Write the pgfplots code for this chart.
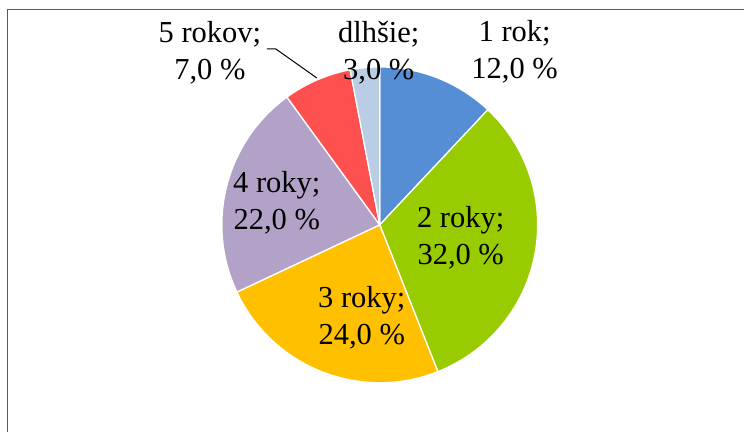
\documentclass[border=0pt]{standalone}
\usepackage{fontspec}
\setmainfont{Liberation Serif}
\usepackage{pgfplots}
\usepackage{pgfplotstable}
\pgfplotsset{compat=1.18}
\definecolor{slice0}{HTML}{558ED5}
\definecolor{slice1}{HTML}{99CC00}
\definecolor{slice2}{HTML}{FFC000}
\definecolor{slice3}{HTML}{B3A2C7}
\definecolor{slice4}{HTML}{FF5050}
\definecolor{slice5}{HTML}{B9CDE5}
\definecolor{framegray}{HTML}{595959}
% label, share in %, label x, first baseline y (in picture units, y up)
\pgfplotstableread[col sep=comma]{
label,value,lx,ly
1 rok,12,515,390
2 roky,32,461,204
3 roky,24,362,124
4 roky,22,277,239
5 rokov,7,210,389
dlhšie,3,379,389
}\piedata
\begin{document}
\begin{tikzpicture}
\begin{axis}[
  width=744bp, height=432bp, scale only axis,
  xmin=0, xmax=744, ymin=0, ymax=432,
  hide axis, clip=false,
]
\pgfplotsextra{
  \path (axis cs:0,0) rectangle (axis cs:744,432);
  \draw[framegray, line width=1bp] (axis cs:7.5,0) -- (axis cs:7.5,422.5) -- (axis cs:744,422.5);
  \pgfplotstablegetrowsof{\piedata}
  \pgfmathtruncatemacro\nrows{\pgfplotsretval-1}
  \gdef\angstart{90}
  \foreach \i in {0,...,\nrows} {
    \pgfplotstablegetelem{\i}{value}\of\piedata
    \let\v\pgfplotsretval
    \pgfmathsetmacro\angend{\angstart-3.6*\v}
    \fill[color=slice\i, draw=white, line width=1.3bp]
      (axis cs:380,207) -- ++(\angstart:158bp)
      arc[start angle=\angstart, end angle=\angend, radius=158bp] -- cycle;
    \xdef\angstart{\angend}
  }
  \draw[black, line width=1bp] (axis cs:267,383) -- (axis cs:276,383) -- (axis cs:317,354);
  \foreach \i in {0,...,\nrows} {
    \pgfplotstablegetelem{\i}{label}\of\piedata \let\lab\pgfplotsretval
    \pgfplotstablegetelem{\i}{value}\of\piedata \let\v\pgfplotsretval
    \pgfplotstablegetelem{\i}{lx}\of\piedata \let\lx\pgfplotsretval
    \pgfplotstablegetelem{\i}{ly}\of\piedata \let\ly\pgfplotsretval
    \node[anchor=base, inner sep=0pt, font=\fontsize{30.5bp}{37bp}\selectfont]
      at (axis cs:\lx,\ly) {\lab;};
    \node[anchor=base, inner sep=0pt, font=\fontsize{30.5bp}{37bp}\selectfont]
      at (axis cs:\lx,\ly-37) {\v,0 \%};
  }
}
\end{axis}
\end{tikzpicture}
\end{document}
